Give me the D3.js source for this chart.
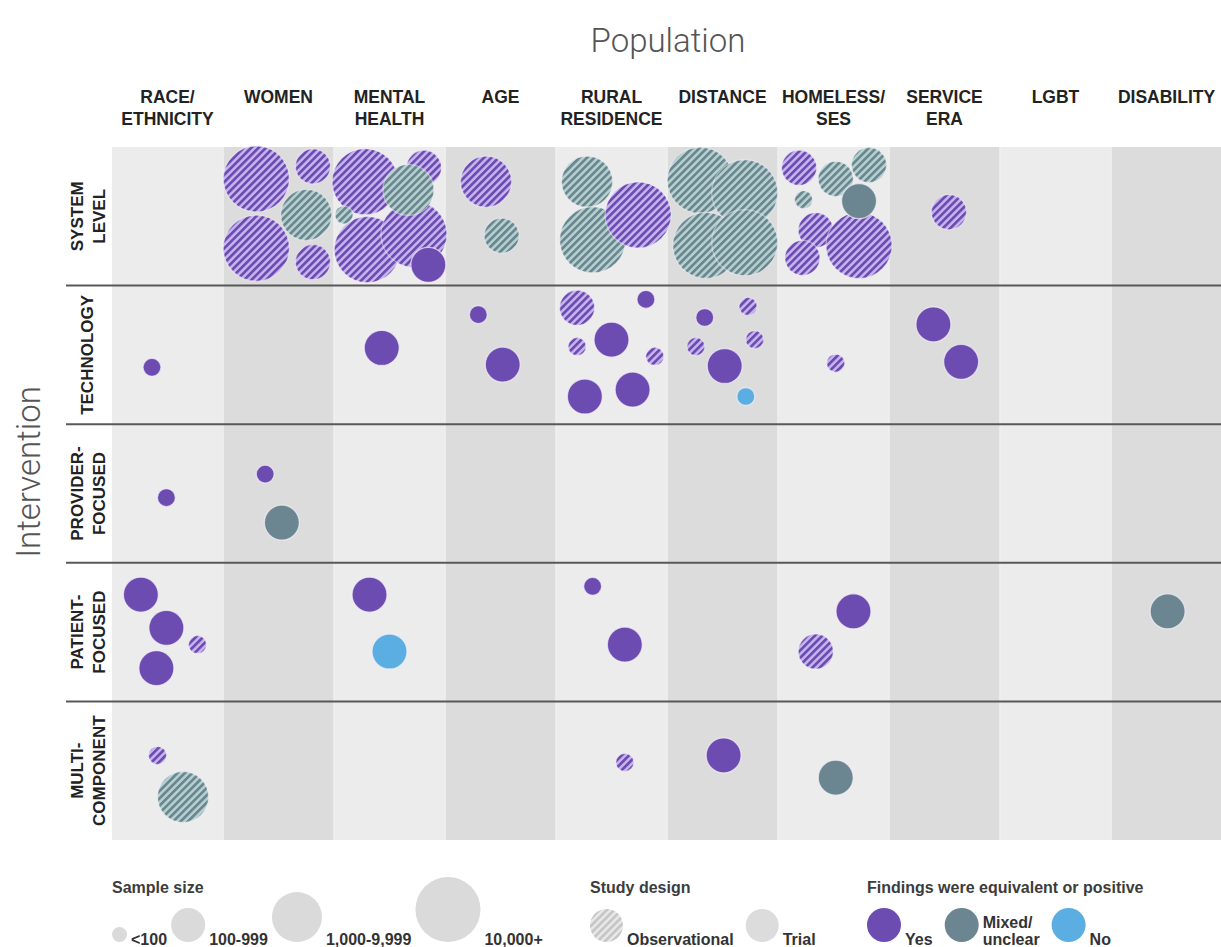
<!DOCTYPE html>
<html>
<head>
<meta charset="utf-8">
<script src="https://cdn.jsdelivr.net/npm/d3@7"></script>
<style>
  body { margin: 0; background: #fff; }
  svg { display: block; font-family: "Liberation Sans", Arial, Helvetica, sans-serif; }
</style>
</head>
<body>
<svg id="chart" width="1221" height="947"></svg>
<script>
var populations = ["RACE/ETHNICITY", "WOMEN", "MENTAL HEALTH", "AGE", "RURAL RESIDENCE", "DISTANCE", "HOMELESS/SES", "SERVICE ERA", "LGBT", "DISABILITY"];
var populationLabels = [["RACE/", "ETHNICITY"], ["WOMEN"], ["MENTAL", "HEALTH"], ["AGE"], ["RURAL", "RESIDENCE"], ["DISTANCE"], ["HOMELESS/", "SES"], ["SERVICE", "ERA"], ["LGBT"], ["DISABILITY"]];
var interventions = ["SYSTEM LEVEL", "TECHNOLOGY", "PROVIDER-FOCUSED", "PATIENT-FOCUSED", "MULTI-COMPONENT"];
var interventionLabels = [["SYSTEM", "LEVEL"], ["TECHNOLOGY"], ["PROVIDER-", "FOCUSED"], ["PATIENT-", "FOCUSED"], ["MULTI-", "COMPONENT"]];
var sampleSizes = ["<100", "100-999", "1,000-9,999", "10,000+"];
var designs = ["Observational", "Trial"];
var findings = ["Yes", "Mixed/unclear", "No"];

/* one study per entry: intervention, population, sample size class, design (O/T),
   finding (Y/M/N), and where it sits inside its cell (0-1 across, 0-1 down) */
var studies = [
  [0, 1, 3, "O", "Y", .30, .23], [0, 1, 1, "O", "Y", .81, .14], [0, 1, 3, "O", "Y", .30, .73],
  [0, 1, 1, "O", "Y", .81, .83], [0, 1, 2, "O", "M", .75, .49],
  [0, 2, 1, "O", "Y", .81, .15], [0, 2, 3, "O", "Y", .28, .25], [0, 2, 3, "O", "Y", .30, .74],
  [0, 2, 3, "O", "Y", .72, .63], [0, 2, 2, "O", "M", .67, .31], [0, 2, 0, "O", "M", .09, .49],
  [0, 2, 1, "T", "Y", .85, .85],
  [0, 3, 2, "O", "Y", .37, .25], [0, 3, 1, "O", "M", .51, .64],
  [0, 4, 2, "O", "M", .28, .25], [0, 4, 3, "O", "M", .33, .67], [0, 4, 3, "O", "Y", .74, .49],
  [0, 5, 3, "O", "M", .30, .24], [0, 5, 3, "O", "M", .70, .33], [0, 5, 3, "O", "M", .35, .71],
  [0, 5, 3, "O", "M", .70, .69],
  [0, 6, 1, "O", "Y", .19, .15], [0, 6, 1, "O", "M", .52, .23], [0, 6, 1, "O", "M", .82, .13],
  [0, 6, 0, "O", "M", .23, .38], [0, 6, 1, "O", "Y", .34, .60], [0, 6, 1, "O", "Y", .22, .80],
  [0, 6, 3, "O", "Y", .73, .71], [0, 6, 1, "T", "M", .73, .39],
  [0, 7, 1, "O", "Y", .54, .47],

  [1, 0, 0, "T", "Y", .36, .59],
  [1, 2, 1, "T", "Y", .43, .45],
  [1, 3, 0, "T", "Y", .30, .21], [1, 3, 1, "T", "Y", .52, .57],
  [1, 4, 1, "O", "Y", .19, .16], [1, 4, 0, "T", "Y", .81, .10], [1, 4, 0, "O", "Y", .19, .44],
  [1, 4, 1, "T", "Y", .50, .39], [1, 4, 0, "O", "Y", .89, .51], [1, 4, 1, "T", "Y", .26, .80],
  [1, 4, 1, "T", "Y", .69, .75],
  [1, 5, 0, "T", "Y", .34, .23], [1, 5, 0, "O", "Y", .73, .15], [1, 5, 0, "O", "Y", .26, .44],
  [1, 5, 0, "O", "Y", .79, .39], [1, 5, 1, "T", "Y", .52, .58], [1, 5, 0, "T", "N", .71, .80],
  [1, 6, 0, "O", "Y", .52, .56],
  [1, 7, 1, "T", "Y", .40, .28], [1, 7, 1, "T", "Y", .65, .55],

  [2, 0, 0, "T", "Y", .49, .53],
  [2, 1, 0, "T", "Y", .38, .36], [2, 1, 1, "T", "M", .53, .71],

  [3, 0, 1, "T", "Y", .26, .23], [3, 0, 1, "T", "Y", .49, .47], [3, 0, 0, "O", "Y", .77, .59],
  [3, 0, 1, "T", "Y", .40, .76],
  [3, 2, 1, "T", "Y", .32, .23], [3, 2, 1, "T", "N", .50, .64],
  [3, 4, 0, "T", "Y", .33, .17], [3, 4, 1, "T", "Y", .62, .59],
  [3, 6, 1, "T", "Y", .68, .35], [3, 6, 1, "O", "Y", .34, .64],
  [3, 9, 1, "T", "M", .51, .35],

  [4, 0, 0, "O", "Y", .41, .39], [4, 0, 2, "O", "M", .64, .69],
  [4, 4, 0, "O", "Y", .62, .44],
  [4, 5, 1, "T", "Y", .51, .39],
  [4, 6, 1, "T", "M", .52, .55]
];

var findingCode = {Y: "Yes", M: "Mixed/unclear", N: "No"};
var darkColor = {"Yes": "#6c4cb0", "Mixed/unclear": "#6b8690", "No": "#5aaee2"};
var lightColor = {"Yes": "#c6b5ef", "Mixed/unclear": "#b6d2cf", "No": "#b6dcf3"};

var svg = d3.select("#chart");
var defs = svg.append("defs");

function hatch(id, dark, light) {
  var p = defs.append("pattern")
    .attr("id", id)
    .attr("patternUnits", "userSpaceOnUse")
    .attr("width", 5.2)
    .attr("height", 5.2)
    .attr("patternTransform", "rotate(45)");
  p.append("rect").attr("width", 5.2).attr("height", 5.2).attr("fill", light);
  p.append("rect").attr("width", 2.7).attr("height", 5.2).attr("fill", dark);
}
findings.forEach(function(f, i) { hatch("hatch" + i, darkColor[f], lightColor[f]); });
hatch("hatchLegend", "#c6c6c6", "#e8e8e8");

function fillFor(design, finding) {
  if (design == "Observational") return "url(#hatch" + findings.indexOf(finding) + ")";
  return darkColor[finding];
}

var x = d3.scaleBand().domain(populations).range([112, 1222]);
var y = d3.scaleBand().domain(interventions).range([147, 840]);
var r = d3.scaleOrdinal().domain(sampleSizes).range([9, 17.5, 25.5, 33]);
var inX = d3.scaleLinear().domain([0, 1]).range([0, x.bandwidth()]);
var inY = d3.scaleLinear().domain([0, 1]).range([0, y.bandwidth()]);

// background cells
var cells = [];
interventions.forEach(function(row) {
  populations.forEach(function(col, ci) { cells.push({row: row, col: col, ci: ci}); });
});
svg.append("g").selectAll("rect")
  .data(cells)
  .enter().append("rect")
  .attr("x", function(d) { return x(d.col); })
  .attr("y", function(d) { return y(d.row); })
  .attr("width", x.bandwidth())
  .attr("height", y.bandwidth())
  .attr("fill", function(d) { return d.ci % 2 == 0 ? "#ececec" : "#dcdcdc"; });

svg.append("g").selectAll("line")
  .data(populations.slice(1))
  .enter().append("line")
  .attr("x1", function(d) { return x(d); })
  .attr("x2", function(d) { return x(d); })
  .attr("y1", y.range()[0])
  .attr("y2", y.range()[1])
  .attr("stroke", "#f1f1f1")
  .attr("stroke-width", 1.5);

// row separators
svg.append("g").selectAll("line")
  .data(interventions.slice(1))
  .enter().append("line")
  .attr("x1", 66)
  .attr("x2", 1221)
  .attr("y1", function(d) { return y(d); })
  .attr("y2", function(d) { return y(d); })
  .attr("stroke", "#585858")
  .attr("stroke-width", 2);

// bubbles
var bubbles = studies.map(function(s) {
  return {
    row: interventions[s[0]], col: populations[s[1]], size: sampleSizes[s[2]],
    design: s[3] == "O" ? "Observational" : "Trial", finding: findingCode[s[4]], u: s[5], v: s[6]
  };
});
svg.append("g").selectAll("circle")
  .data(bubbles)
  .enter().append("circle")
  .attr("cx", function(d) { return x(d.col) + inX(d.u); })
  .attr("cy", function(d) { return y(d.row) + inY(d.v); })
  .attr("r", function(d) { return r(d.size); })
  .attr("fill", function(d) { return fillFor(d.design, d.finding); })
  .attr("stroke", "#f4f0fb")
  .attr("stroke-opacity", function(d) { return d.design == "Observational" ? 0.45 : 0.7; })
  .attr("stroke-width", 1.3);

// titles
svg.append("text")
  .attr("x", (x.range()[0] + x.range()[1]) / 2 + 1)
  .attr("y", 52)
  .attr("text-anchor", "middle")
  .style("font-family", "Roboto, 'Open Sans', sans-serif")
  .style("font-weight", 300)
  .style("font-size", "33px")
  .attr("fill", "#555")
  .text("Population");

svg.append("text")
  .attr("transform", "translate(40,472) rotate(-90)")
  .attr("text-anchor", "middle")
  .style("font-family", "Roboto, 'Open Sans', sans-serif")
  .style("font-weight", 300)
  .style("font-size", "33px")
  .attr("fill", "#555")
  .text("Intervention");

// column headers
var colHead = svg.append("g").selectAll("text")
  .data(populations)
  .enter().append("text")
  .attr("text-anchor", "middle")
  .attr("fill", "#222")
  .style("font-weight", "bold")
  .style("font-size", "17.5px");
colHead.each(function(d, i) {
  var t = d3.select(this);
  populationLabels[i].forEach(function(line, li) {
    t.append("tspan")
      .attr("x", x(d) + x.bandwidth() / 2)
      .attr("y", 103 + li * 22)
      .text(line);
  });
});

// row headers
var rowHead = svg.append("g").selectAll("text")
  .data(interventions)
  .enter().append("text")
  .attr("text-anchor", "middle")
  .attr("fill", "#222")
  .style("font-weight", "bold")
  .style("font-size", "17px")
  .attr("transform", function(d) { return "translate(0," + (y(d) + y.bandwidth() / 2) + ") rotate(-90)"; });
rowHead.each(function(d, i) {
  var t = d3.select(this);
  var lines = interventionLabels[i];
  lines.forEach(function(line, li) {
    t.append("tspan")
      .attr("x", 0)
      .attr("y", lines.length == 1 ? 93 : 83 + li * 22)
      .text(line);
  });
});

// legends
var legendTitleY = 893, legendBase = 942, legendTextY = 945;
function legendTitle(x0, txt) {
  svg.append("text")
    .attr("x", x0)
    .attr("y", legendTitleY)
    .attr("fill", "#3c3c3c")
    .style("font-weight", "bold")
    .style("font-size", "16px")
    .text(txt);
}
function legendRow(x0, items, radius, fill, gap) {
  var cx = x0;
  items.forEach(function(item) {
    var rad = radius(item);
    svg.append("circle")
      .attr("cx", cx + rad)
      .attr("cy", legendBase - rad)
      .attr("r", rad)
      .attr("fill", fill(item));
    var t = svg.append("text")
      .attr("fill", "#333")
      .style("font-weight", "bold")
      .style("font-size", "16px");
    var parts = item.split("/");
    if (parts.length > 1 && item != "<100") {
      t.append("tspan").attr("x", cx + 2 * rad + 4).attr("y", legendTextY - 17).text(parts[0] + "/");
      t.append("tspan").attr("x", cx + 2 * rad + 4).attr("y", legendTextY).text(parts[1]);
    } else {
      t.attr("x", cx + 2 * rad + 4).attr("y", legendTextY).text(item);
    }
    cx = cx + 2 * rad + 4 + t.node().getBBox().width + gap;
  });
}

legendTitle(112, "Sample size");
legendRow(112, sampleSizes, function(d) { return d == "<100" ? 7.5 : r(d) - 0.5; }, function() { return "#dadada"; }, 4);

legendTitle(590, "Study design");
legendRow(590, designs, function() { return 16.5; },
  function(d) { return d == "Observational" ? "url(#hatchLegend)" : "#dcdcdc"; }, 12);

legendTitle(867, "Findings were equivalent or positive");
legendRow(867, findings, function() { return 17; }, function(d) { return darkColor[d]; }, 12);
</script>
</body>
</html>
